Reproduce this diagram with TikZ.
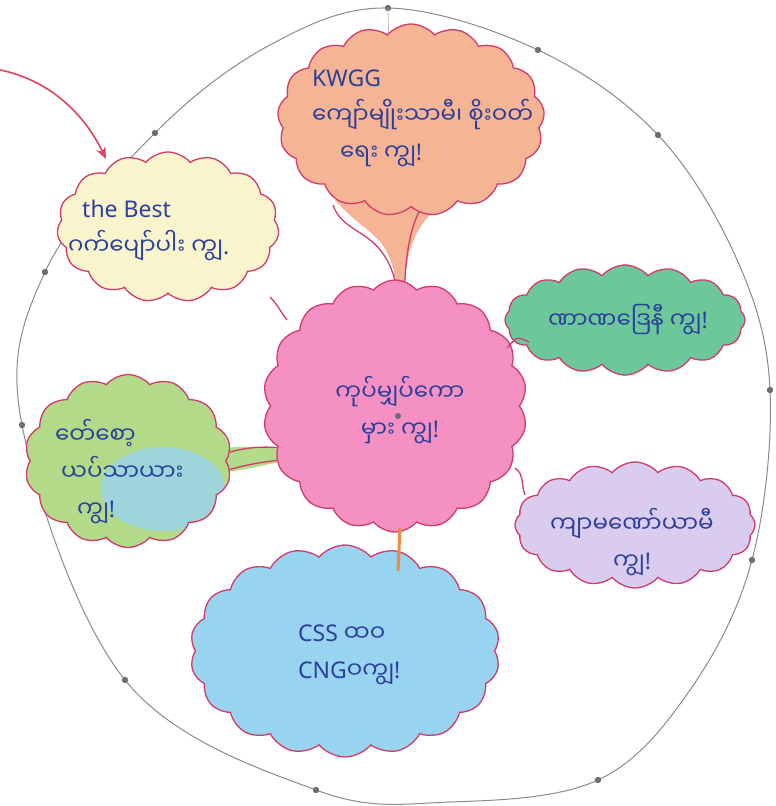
\documentclass[tikz,border=0pt]{standalone}
\usepackage{fontspec}
\setmainfont{Noto Sans}
\newfontfamily\mm[Script=Myanmar]{Noto Sans Myanmar UI}
\usetikzlibrary{shapes.symbols,arrows.meta,calc}
\definecolor{edge}{HTML}{D23A6B}
\definecolor{ink}{HTML}{2B3F9C}
\definecolor{orangefill}{HTML}{F5B493}
\definecolor{yellowfill}{HTML}{FAF4CC}
\definecolor{greenfill}{HTML}{6CC89A}
\definecolor{pinkfill}{HTML}{F490C2}
\definecolor{limefill}{HTML}{B2DA88}
\definecolor{bluefill}{HTML}{98D4F0}
\definecolor{lilacfill}{HTML}{D9CCEE}
\definecolor{pencil}{HTML}{8A8A8A}
\definecolor{arrowred}{HTML}{E0435F}
\definecolor{orangeline}{HTML}{EE8A40}
\tikzset{
  bubble/.style={cloud, cloud ignores aspect, cloud puff arc=100, draw=edge,
    line width=1.3pt, inner sep=0pt},
  words/.style={text=ink, font=\fontsize{23}{37}\selectfont, align=left, inner sep=0pt},
  dotmark/.style={fill=pencil!80!black, draw=none},
  tailedge/.style={draw=edge, line width=1.3pt},
}
\begin{document}
\begin{tikzpicture}[x=1pt,y=-1pt]
\useasboundingbox (0,0) rectangle (776,806);
% outer pencil circle
\draw[pencil, line width=1pt] plot[smooth cycle, tension=0.6] coordinates {
  (388,8) (538,50) (658,135) (738,262) (770,390) (752,560) (690,690)
  (598,780) (450,802) (316,790) (125,680) (22,425) (45,272) (155,133) (270,45)};
\foreach \p in {(388,8),(538,50),(658,135),(770,390),(752,560),(598,780),(316,790),(125,680),(22,425),(45,272),(155,133)}
  \fill[dotmark] \p circle (3.2);
% faint pencil radius
\draw[pencil!60, line width=0.7pt] (388,8) -- (398,415);

% tails (behind clouds)
\coordinate (toptip) at (399,302);
\fill[orangefill] (335,200) .. controls (370,240) and (392,230) .. (toptip) -- (404,300) .. controls (405,260) and (410,230) .. (440,205) -- cycle;
\draw[tailedge] (333,205) .. controls (345,240) and (390,225) .. (toptip);
\draw[tailedge] (404,300) .. controls (405,265) and (408,232) .. (420,210);

\coordinate (lefttip) at (298,452);
\fill[limefill] (225,448) .. controls (250,445) and (280,448) .. (lefttip) -- (300,460) .. controls (280,460) and (250,470) .. (225,472) -- cycle;
\draw[tailedge] (230,452) .. controls (255,445) and (280,446) .. (lefttip);
\draw[tailedge] (228,470) .. controls (255,462) and (280,460) .. (300,458);

% clouds
\node[bubble, fill=orangefill, cloud puffs=17, minimum width=267pt, minimum height=192pt] (kwgg) at (411,120) {};
\node[bubble, fill=yellowfill, cloud puffs=15, minimum width=222pt, minimum height=150pt] (best) at (168,227) {};
\node[bubble, fill=greenfill, cloud puffs=16, minimum width=240pt, minimum height=110pt] (green) at (625,320) {};
\node[bubble, fill=limefill, cloud puffs=14, minimum width=207pt, minimum height=173pt,
  path picture={\fill[bluefill, opacity=0.8] ($(path picture bounding box.center)+(35,28)$) ellipse (62pt and 42pt);}] (lime) at (128,461) {};
\node[bubble, fill=lilacfill, cloud puffs=16, minimum width=240pt, minimum height=126pt] (lilac) at (635,525) {};
\node[bubble, fill=bluefill, cloud puffs=18, minimum width=310pt, minimum height=212pt] (css) at (345,651) {};
\node[bubble, fill=pinkfill, cloud puffs=18, minimum width=264pt, minimum height=252pt] (hub) at (395,406) {};
\fill[dotmark] (398,416) circle (3);

% small connectors
\draw[orangeline, line width=3pt] ($(hub.center)+(5,122)$) -- ($(css.center)+(53,-80)$);
\draw[tailedge] ($(hub.center)+(112,-58)$) .. controls ($(hub.center)+(122,-68)$) and ($(green.center)+(-110,15)$) .. ($(green.center)+(-96,22)$);
\draw[tailedge] ($(hub.center)+(120,62)$) .. controls ($(hub.center)+(130,70)$) and ($(lilac.center)+(-115,-45)$) .. ($(lilac.center)+(-110,-30)$);
\draw[tailedge] ($(best.center)+(102,70)$) .. controls ($(best.center)+(110,78)$) and ($(hub.center)+(-115,-95)$) .. ($(hub.center)+(-108,-86)$);

% arrow
\coordinate (arrowstart) at (0,70);
\draw[arrowred, line width=1.6pt, -{Stealth[length=12pt,width=10pt]}] (arrowstart) .. controls (50,80) and (85,115) .. ($(best.center)+(-62,-68)$);

% texts
\node[words, anchor=west] (t1) at (312,118) {KWGG\\{\mm ကျော်မျိုးသာမီ၊ စိုးဝတ်}\\\hspace{28pt}{\mm ရေး ကျွ}!};
\node[words, anchor=west] (t2) at (68,230) {\hspace{14pt}the Best\\{\mm ဂက်ပျော်ပါး ကျွ}.};
\node[words] (t3) at (628,320) {{\mm ဏာဏဒြေနီ ကျွ}!};
\node[words, align=center] (t4) at (400,410) {{\mm ကုပ်မျှပ်ကော}\\{\mm မှား ကျွ}!};
\node[words, anchor=west] (t5) at (55,472) {{\mm ဝော်စော့}\\\hspace{6pt}{\mm ယပ်သာယား}\\\hspace{22pt}{\mm ကျွ}!};
\node[words, align=center] (t6) at (632,542) {{\mm ကျာမဏော်ယာမီ}\\{\mm ကျွ}!};
\node[words, anchor=west] (t7) at (298,655) {CSS {\mm ထဝ}\\CNG{\mm ဝကျွ}!};
\end{tikzpicture}
\end{document}
